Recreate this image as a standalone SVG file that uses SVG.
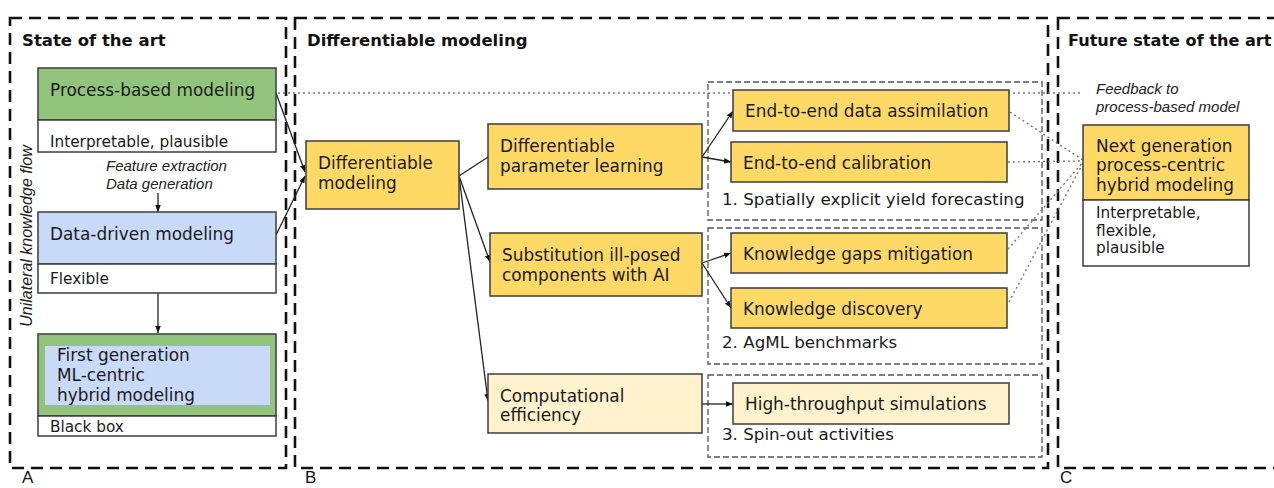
<svg xmlns="http://www.w3.org/2000/svg" width="1274" height="488" viewBox="0 0 1274 488">
<defs>
<style>
.panel{fill:none;stroke:#111;stroke-width:2.6;stroke-dasharray:12 7}
.grp{fill:none;stroke:#555;stroke-width:1.3;stroke-dasharray:6 3}
.box{stroke:#3c3c3c;stroke-width:1.5}
.y{fill:#ffd966}.l{fill:#fff2cc}.g{fill:#93c47d}.b{fill:#c9daf8}.w{fill:#fff}
.t{font-family:"DejaVu Sans",Verdana,sans-serif;font-size:16.9px;fill:#1a1a1a}
.gl{font-family:"DejaVu Sans",Verdana,sans-serif;font-size:16.7px;fill:#1a1a1a}
.s{font-family:"DejaVu Sans",Verdana,sans-serif;font-size:15.3px;fill:#1a1a1a}
.h{font-family:"DejaVu Sans",Verdana,sans-serif;font-size:16.5px;font-weight:bold;fill:#111}
.i{font-family:"Liberation Sans",Arial,sans-serif;font-size:15px;font-style:italic;fill:#222}
.lab{font-family:"Liberation Sans",Arial,sans-serif;font-size:17px;fill:#111}
.c{fill:none;stroke:#222;stroke-width:1.3}
.d{fill:none;stroke:#777;stroke-width:1.4;stroke-dasharray:2 3}
</style>
<marker id="ah" viewBox="0 0 10 10" refX="10" refY="5" markerWidth="7" markerHeight="7" markerUnits="userSpaceOnUse" orient="auto"><path d="M0,1 L10,5 L0,9 z" fill="#111"/></marker>
</defs>
<rect width="1274" height="488" fill="#fff"/>

<g id="panels">
<rect class="panel" x="10" y="18" width="276" height="450"/>
<rect class="panel" x="295" y="18" width="753" height="450"/>
<rect class="panel" x="1058" y="18" width="240" height="450"/>
<text class="h" x="22" y="46">State of the art</text>
<text class="h" x="307" y="46">Differentiable modeling</text>
<text class="h" x="1068" y="46" style="font-size:16.1px">Future state of the art</text>
<text class="lab" x="22" y="483">A</text>
<text class="lab" x="305" y="483">B</text>
<text class="lab" x="1060" y="483">C</text>
<text class="i" transform="translate(32,236) rotate(-90)" text-anchor="middle" style="font-size:16px">Unilateral knowledge flow</text>
</g>

<g id="groups">
<rect class="grp" x="708" y="82" width="334" height="138"/>
<rect class="grp" x="708" y="228" width="334" height="136"/>
<rect class="grp" x="708" y="375" width="334" height="82"/>
<text class="gl" x="722" y="205">1. Spatially explicit yield forecasting</text>
<text class="gl" x="722" y="348">2. AgML benchmarks</text>
<text class="gl" x="722" y="440">3. Spin-out activities</text>
</g>

<g id="connectors">
<line class="d" x1="278" y1="93" x2="1082" y2="93"/>
<line class="c" x1="158" y1="193" x2="158" y2="212" marker-end="url(#ah)"/>
<line class="c" x1="158" y1="293" x2="158" y2="333" marker-end="url(#ah)"/>
<line class="c" x1="276" y1="93" x2="305" y2="172" marker-end="url(#ah)"/>
<line class="c" x1="276" y1="235" x2="305" y2="176" marker-end="url(#ah)"/>
<line class="c" x1="459" y1="176" x2="488" y2="157"/>
<line class="c" x1="459" y1="176" x2="490" y2="262" marker-end="url(#ah)"/>
<line class="c" x1="459" y1="176" x2="488" y2="401" marker-end="url(#ah)"/>
<line class="c" x1="702" y1="157" x2="733" y2="111" marker-end="url(#ah)"/>
<line class="c" x1="702" y1="157" x2="731" y2="162" marker-end="url(#ah)"/>
<line class="c" x1="702" y1="263" x2="731" y2="253" marker-end="url(#ah)"/>
<line class="c" x1="702" y1="263" x2="731" y2="308" marker-end="url(#ah)"/>
<line class="c" x1="702" y1="404" x2="733" y2="404" marker-end="url(#ah)"/>
<line class="d" x1="1010" y1="112" x2="1083" y2="160"/>
<line class="d" x1="1008" y1="162" x2="1083" y2="161"/>
<line class="d" x1="1008" y1="249" x2="1083" y2="162"/>
<line class="d" x1="1009" y1="302" x2="1083" y2="163"/>
</g>

<g id="process-based">
<rect class="box g" x="38" y="68" width="238" height="52"/>
<rect class="box w" x="38" y="120" width="238" height="32"/>
<text class="t" x="50" y="96">Process-based modeling</text>
<text class="s" x="50" y="147">Interpretable, plausible</text>
</g>

<g id="feature-label">
<text class="i" x="106" y="171">Feature extraction</text>
<text class="i" x="106" y="189">Data generation</text>
</g>

<g id="data-driven">
<rect class="box b" x="38" y="212" width="238" height="52"/>
<rect class="box w" x="38" y="264" width="238" height="29"/>
<text class="t" x="50" y="240">Data-driven modeling</text>
<text class="s" x="50" y="284">Flexible</text>
</g>

<g id="first-generation">
<rect class="box g" x="38" y="334" width="238" height="82"/>
<rect x="45" y="346" width="225" height="59" fill="#c9daf8"/>
<rect class="box w" x="38" y="416" width="238" height="20"/>
<text class="t" x="57" y="361">First generation</text>
<text class="t" x="57" y="381">ML-centric</text>
<text class="t" x="57" y="401">hybrid modeling</text>
<text class="s" x="50" y="432">Black box</text>
</g>

<g id="differentiable-modeling">
<rect class="box y" x="306" y="141" width="153" height="68"/>
<text class="t" x="318" y="169">Differentiable</text>
<text class="t" x="318" y="189">modeling</text>
</g>

<g id="param-learning">
<rect class="box y" x="488" y="124" width="214" height="65"/>
<text class="t" x="500" y="152">Differentiable</text>
<text class="t" x="500" y="172">parameter learning</text>
</g>

<g id="substitution">
<rect class="box y" x="490" y="233" width="212" height="63"/>
<text class="t" x="502" y="261">Substitution ill-posed</text>
<text class="t" x="502" y="281">components with AI</text>
</g>

<g id="computational">
<rect class="box l" x="488" y="374" width="214" height="59"/>
<text class="t" x="500" y="402">Computational</text>
<text class="t" x="500" y="421">efficiency</text>
</g>

<g id="data-assimilation">
<rect class="box y" x="733" y="90" width="276" height="41"/>
<text class="t" x="745" y="117">End-to-end data assimilation</text>
</g>

<g id="calibration">
<rect class="box y" x="731" y="142" width="276" height="40"/>
<text class="t" x="743" y="169">End-to-end calibration</text>
</g>

<g id="gaps">
<rect class="box y" x="731" y="233" width="276" height="40"/>
<text class="t" x="743" y="260">Knowledge gaps mitigation</text>
</g>

<g id="discovery">
<rect class="box y" x="731" y="288" width="276" height="40"/>
<text class="t" x="743" y="315">Knowledge discovery</text>
</g>

<g id="high-throughput">
<rect class="box l" x="733" y="383" width="276" height="41"/>
<text class="t" x="745" y="410">High-throughput simulations</text>
</g>

<g id="feedback-label">
<text class="i" x="1096" y="94">Feedback to</text>
<text class="i" x="1096" y="112">process-based model</text>
</g>

<g id="next-generation">
<rect class="box y" x="1083" y="125" width="166" height="75"/>
<rect class="box w" x="1083" y="200" width="166" height="66"/>
<text class="t" x="1096" y="152">Next generation</text>
<text class="t" x="1096" y="171">process-centric</text>
<text class="t" x="1096" y="191">hybrid modeling</text>
<text class="s" x="1096" y="218">Interpretable,</text>
<text class="s" x="1096" y="236">flexible,</text>
<text class="s" x="1096" y="253">plausible</text>
</g>
</svg>
